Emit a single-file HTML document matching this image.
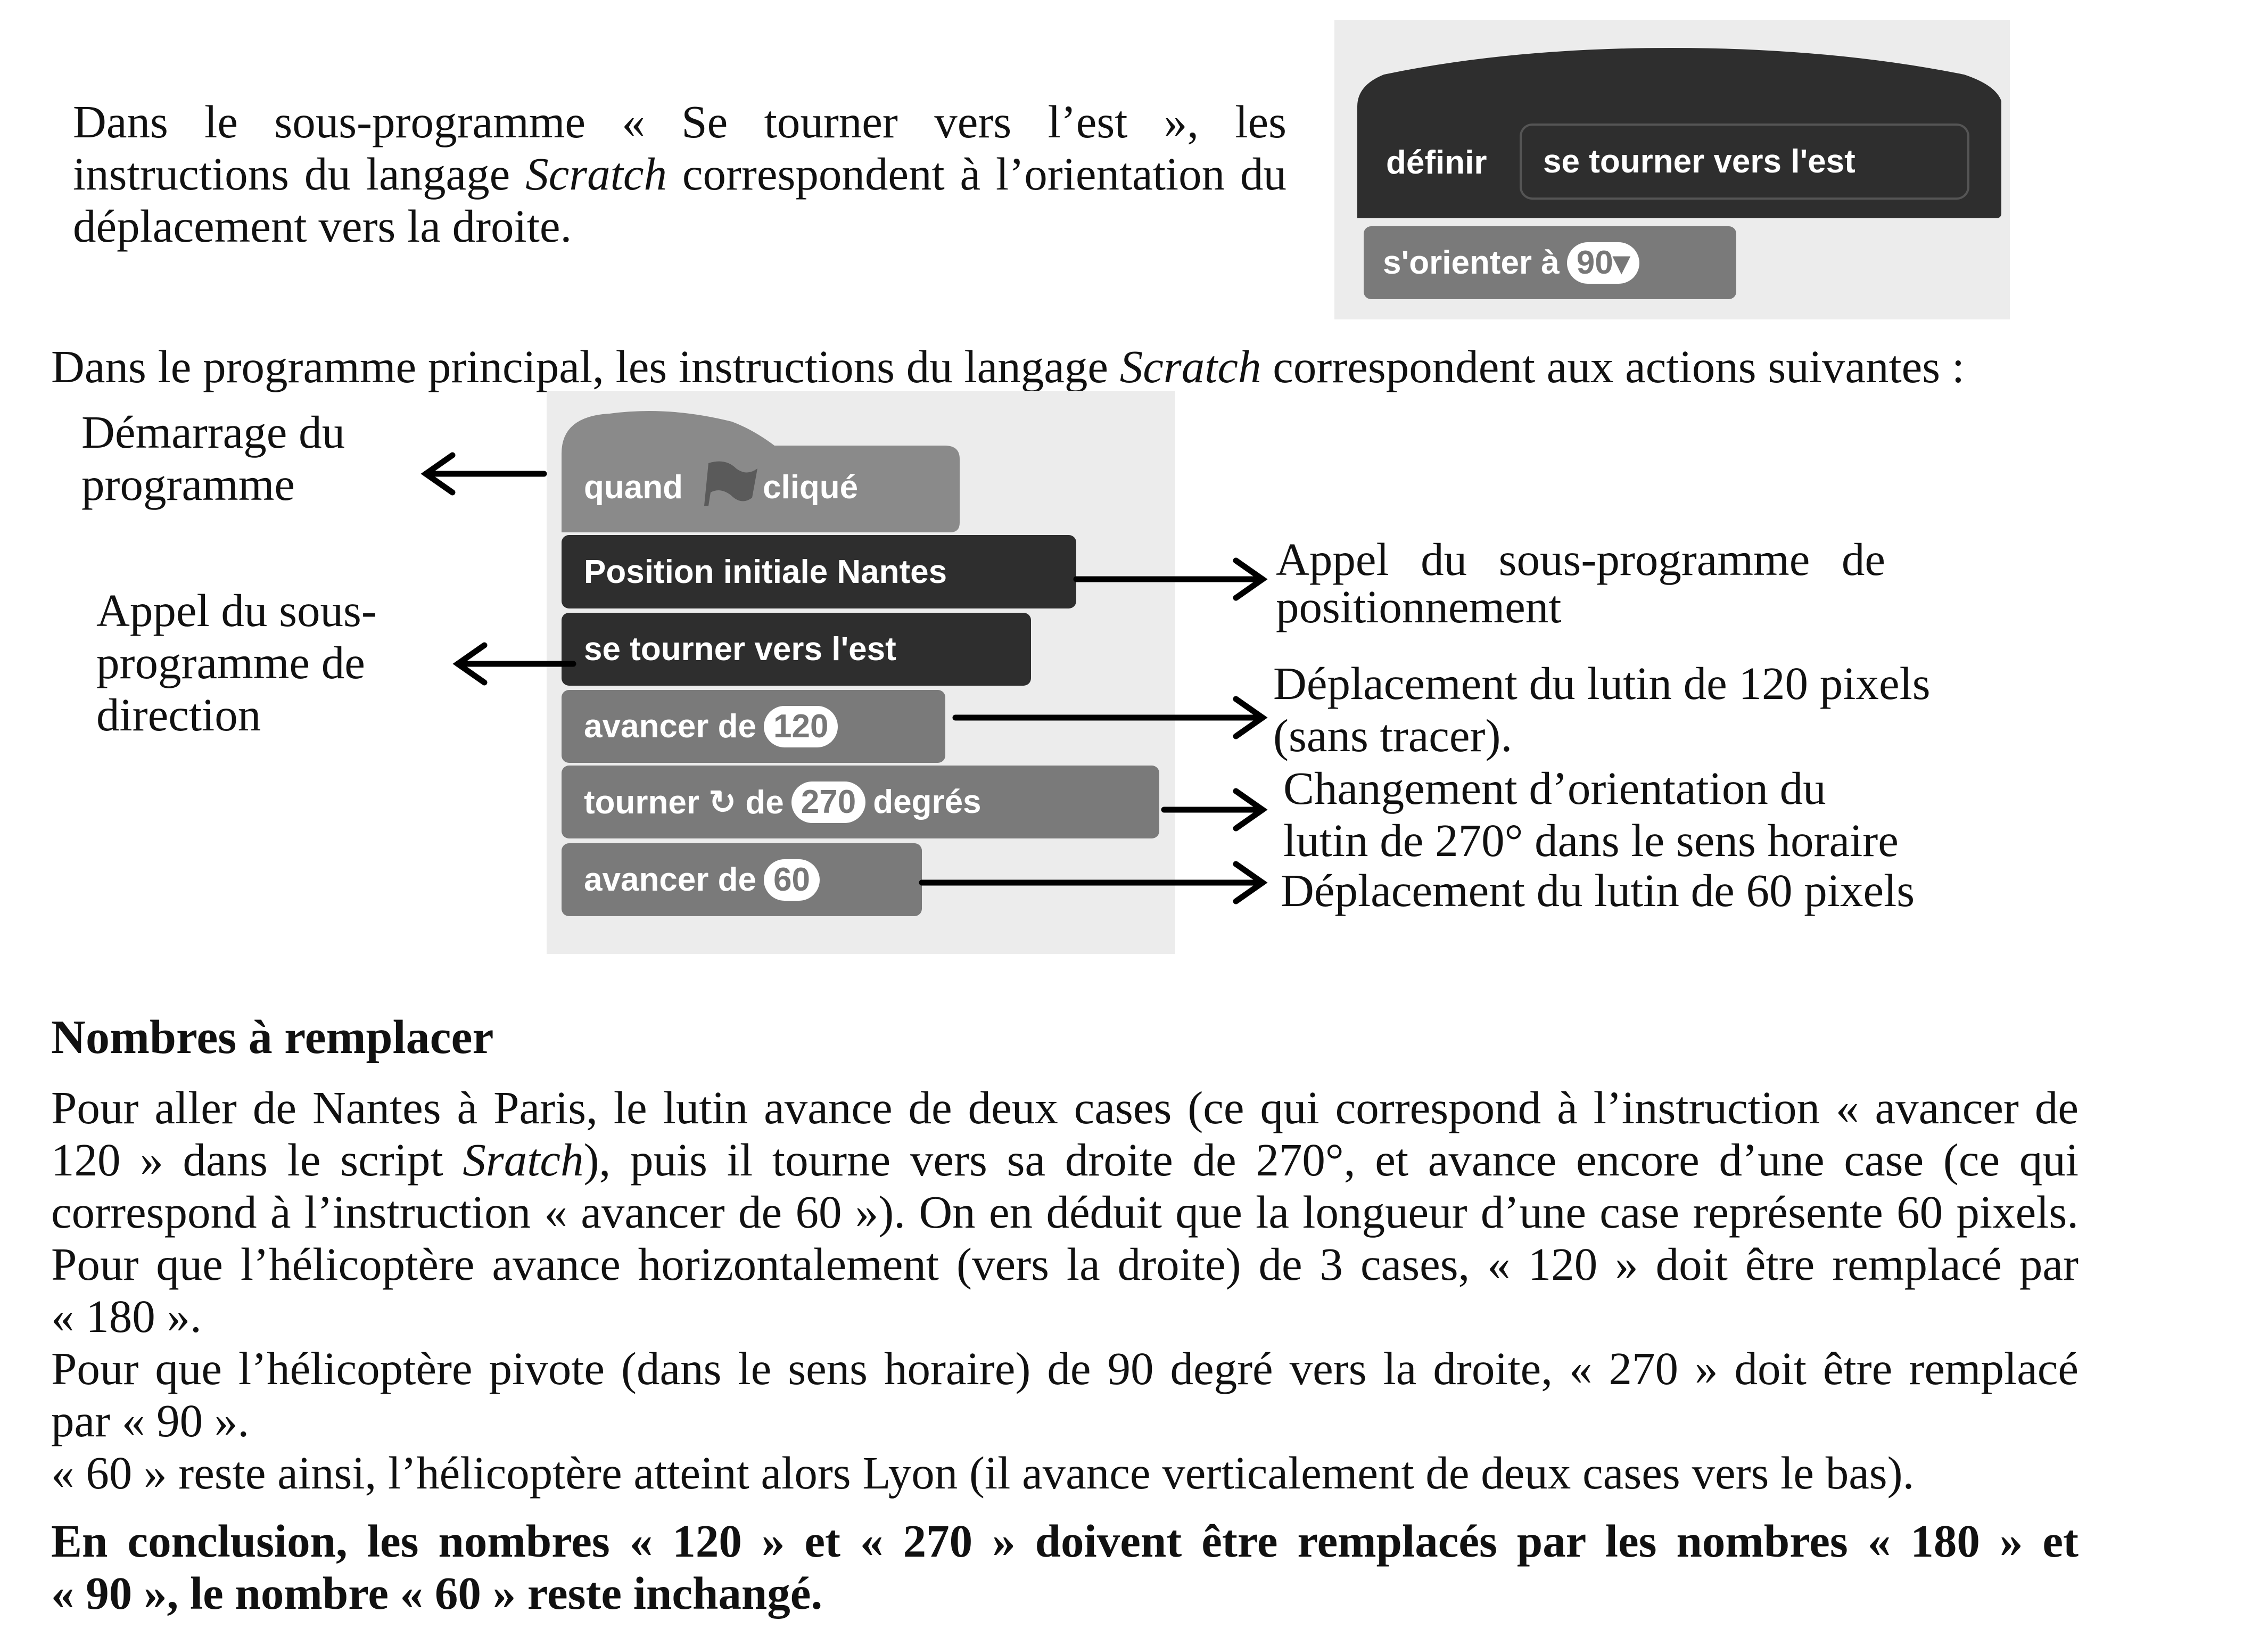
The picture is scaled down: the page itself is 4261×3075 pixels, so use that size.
<!DOCTYPE html>
<html><head><meta charset="utf-8"><style>
body{margin:0;width:4261px;height:3075px;background:#fff;position:relative;overflow:hidden;font-family:"Liberation Serif",serif;color:#111}
.t{position:absolute;font-size:87px;line-height:98px;white-space:nowrap}
.j{text-align:justify;text-align-last:justify}
.b{font-weight:bold}
.blk{position:absolute;border-radius:14px;color:#fff;font-family:"Liberation Sans",sans-serif;font-weight:bold;font-size:62px;display:flex;align-items:center;padding-left:42px;box-sizing:border-box;white-space:nowrap}
.d{background:#2e2e2e}.g{background:#7a7a7a}
.oval{display:inline-block;background:#fff;color:#777;border-radius:40px;padding:0 18px;margin:0 14px;line-height:78px}
.bg{position:absolute;background:#ececec}
</style></head><body>

<div class="t j" style="left:137px;top:180px;width:2280px">Dans le sous-programme «&nbsp;Se tourner vers l’est&nbsp;», les</div>
<div class="t j" style="left:137px;top:278px;width:2280px">instructions du langage <i>Scratch</i> correspondent à l’orientation du</div>
<div class="t" style="left:137px;top:376px">déplacement vers la droite.</div>

<div class="bg" style="left:2507px;top:38px;width:1269px;height:562px"></div>
<svg style="position:absolute;left:2540px;top:90px" width="1240" height="330"><path d="M10 110 Q10 70 60 50 Q300 0 600 0 Q900 0 1150 50 Q1210 70 1220 100 L1220 310 Q1220 320 1210 320 L10 320 Z" fill="#2e2e2e"/></svg>
<div class="blk d" style="left:2548px;top:190px;width:1220px;height:230px;background:none;padding-left:56px">définir</div>
<div style="position:absolute;left:2855px;top:232px;width:845px;height:143px;border:4px solid #555;border-radius:24px;background:#2e2e2e;box-sizing:border-box;color:#fff;font-family:'Liberation Sans',sans-serif;font-weight:bold;font-size:62px;line-height:135px;padding-left:40px">se tourner vers l'est</div>
<div class="blk g" style="left:2562px;top:425px;width:700px;height:137px;padding-left:36px">s'orienter à<span class="oval">90▾</span></div>

<div class="t" style="left:96px;top:640px">Dans le programme principal, les instructions du langage <i>Scratch</i> correspondent aux actions suivantes :</div>

<div class="bg" style="left:1027px;top:734px;width:1181px;height:1058px"></div>
<svg style="position:absolute;left:1055px;top:762px" width="750" height="240"><path d="M0 90 Q0 20 90 15 Q200 0 320 30 Q360 45 400 75 L720 75 Q748 75 748 100 L748 220 Q748 238 730 238 L0 238 Z" fill="#8a8a8a"/></svg>
<div class="blk" style="left:1055px;top:845px;width:748px;height:140px;background:none">quand<span style="display:inline-block;width:150px;height:80px;position:relative"><svg width="150" height="90" style="position:absolute;left:30px;top:-10px"><path d="M10 85 L18 5 Q50 -5 70 15 Q90 30 110 15 L100 70 Q80 85 60 65 Q40 50 22 60 L18 85Z" fill="#5a5a5a"/></svg></span>cliqué</div>
<div class="blk d" style="left:1055px;top:1005px;width:967px;height:138px">Position initiale Nantes</div>
<div class="blk d" style="left:1055px;top:1151px;width:882px;height:137px">se tourner vers l'est</div>
<div class="blk g" style="left:1055px;top:1296px;width:721px;height:137px">avancer de<span class="oval">120</span></div>
<div class="blk g" style="left:1055px;top:1438px;width:1123px;height:137px">tourner ↻ de<span class="oval">270</span>degrés</div>
<div class="blk g" style="left:1055px;top:1584px;width:677px;height:137px">avancer de<span class="oval">60</span></div>

<svg style="position:absolute;left:0;top:0" width="4261" height="1800">
<g stroke="#000" stroke-width="11" fill="none" stroke-linecap="round">
<line x1="1022" y1="890" x2="800" y2="890"/><polyline points="850,855 800,890 850,925"/>
<line x1="1077" y1="1247" x2="860" y2="1247"/><polyline points="910,1212 860,1247 910,1282"/>
<line x1="2022" y1="1088" x2="2372" y2="1088"/><polyline points="2322,1053 2372,1088 2322,1123"/>
<line x1="1795" y1="1348" x2="2372" y2="1348"/><polyline points="2322,1313 2372,1348 2322,1383"/>
<line x1="2187" y1="1521" x2="2372" y2="1521"/><polyline points="2322,1486 2372,1521 2322,1556"/>
<line x1="1732" y1="1658" x2="2372" y2="1658"/><polyline points="2322,1623 2372,1658 2322,1693"/>
</g></svg>

<div class="t" style="left:153px;top:763px">Démarrage du<br>programme</div>
<div class="t" style="left:181px;top:1098px">Appel du sous-<br>programme de<br>direction</div>
<div class="t j" style="left:2397px;top:1002px;width:1145px">Appel du sous-programme de</div>
<div class="t" style="left:2397px;top:1100px;line-height:80px">positionnement</div>
<div class="t" style="left:2392px;top:1235px">Déplacement du lutin de 120 pixels<br>(sans tracer).</div>
<div class="t" style="left:2411px;top:1432px">Changement d’orientation du<br>lutin de 270° dans le sens horaire</div>
<div class="t" style="left:2406px;top:1624px">Déplacement du lutin de 60 pixels</div>

<div class="t b" style="left:96px;top:1900px;font-size:90px">Nombres à remplacer</div>
<div class="t j" style="left:96px;top:2032px;width:3809px">Pour aller de Nantes à Paris, le lutin avance de deux cases (ce qui correspond à l’instruction «&nbsp;avancer de</div>
<div class="t j" style="left:96px;top:2130px;width:3809px">120&nbsp;» dans le script <i>Sratch</i>), puis il tourne vers sa droite de 270°, et avance encore d’une case (ce qui</div>
<div class="t j" style="left:96px;top:2228px;width:3809px">correspond à l’instruction «&nbsp;avancer de 60&nbsp;»). On en déduit que la longueur d’une case représente 60 pixels.</div>
<div class="t j" style="left:96px;top:2326px;width:3809px">Pour que l’hélicoptère avance horizontalement (vers la droite) de 3 cases, «&nbsp;120&nbsp;» doit être remplacé par</div>
<div class="t" style="left:96px;top:2424px">« 180 ».</div>
<div class="t j" style="left:96px;top:2522px;width:3809px">Pour que l’hélicoptère pivote (dans le sens horaire) de 90 degré vers la droite, «&nbsp;270&nbsp;» doit être remplacé</div>
<div class="t" style="left:96px;top:2620px">par « 90 ».</div>
<div class="t" style="left:96px;top:2718px">« 60 » reste ainsi, l’hélicoptère atteint alors Lyon (il avance verticalement de deux cases vers le bas).</div>
<div class="t j b" style="left:96px;top:2846px;width:3809px">En conclusion, les nombres «&nbsp;120&nbsp;» et «&nbsp;270&nbsp;» doivent être remplacés par les nombres «&nbsp;180&nbsp;» et</div>
<div class="t b" style="left:96px;top:2944px">« 90 », le nombre « 60 » reste inchangé.</div>
</body></html>
